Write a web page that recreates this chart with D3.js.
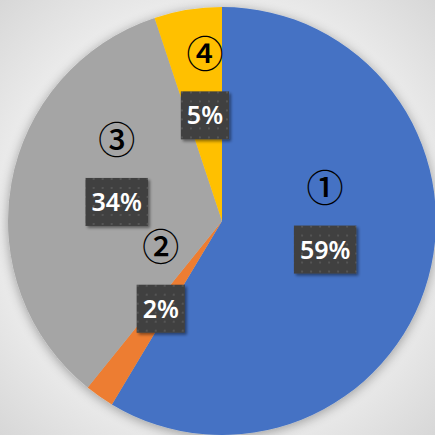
<!DOCTYPE html>
<html>
<head>
<meta charset="utf-8">
<script src="https://cdn.jsdelivr.net/npm/d3@7"></script>
<style>
  html, body { margin: 0; padding: 0; }
  body { width: 435px; height: 435px; overflow: hidden; }
</style>
</head>
<body>
<div id="chart"></div>
<script>
const categories = ["①", "②", "③", "④"];
const values = [58.6, 2.2, 34.1, 5.1];
const percentLabels = ["59%", "2%", "34%", "5%"];
const colors = ["#4472C4", "#ED7D31", "#A5A5A5", "#FFC000"];

const width = 435;
const height = 435;
const radius = 214;
const cx = 222;
const cy = 221;

const svg = d3
  .select("#chart")
  .append("svg")
  .attr("width", width)
  .attr("height", height);

const defs = svg.append("defs");

const bg = defs
  .append("radialGradient")
  .attr("id", "bg")
  .attr("cx", "50%")
  .attr("cy", "50%")
  .attr("r", "72%");
bg.append("stop").attr("offset", "0%").attr("stop-color", "#ffffff");
bg.append("stop").attr("offset", "55%").attr("stop-color", "#f4f4f4");
bg.append("stop").attr("offset", "100%").attr("stop-color", "#d6d6d6");

const shadow = defs.append("filter").attr("id", "pieShadow")
  .attr("x", "-20%").attr("y", "-20%").attr("width", "140%").attr("height", "140%");
shadow.append("feGaussianBlur").attr("in", "SourceAlpha").attr("stdDeviation", 6);
shadow.append("feOffset").attr("dx", 0).attr("dy", 2).attr("result", "b");
shadow.append("feComponentTransfer").append("feFuncA").attr("type", "linear").attr("slope", 0.35);
const merge = shadow.append("feMerge");
merge.append("feMergeNode");
merge.append("feMergeNode").attr("in", "SourceGraphic");

const boxShadow = defs.append("filter").attr("id", "boxShadow")
  .attr("x", "-20%").attr("y", "-20%").attr("width", "150%").attr("height", "150%");
boxShadow.append("feGaussianBlur").attr("in", "SourceAlpha").attr("stdDeviation", 1.5);
boxShadow.append("feOffset").attr("dx", 2).attr("dy", 2);
boxShadow.append("feComponentTransfer").append("feFuncA").attr("type", "linear").attr("slope", 0.45);
const m2 = boxShadow.append("feMerge");
m2.append("feMergeNode");
m2.append("feMergeNode").attr("in", "SourceGraphic");

const pattern = defs.append("pattern")
  .attr("id", "dots")
  .attr("patternUnits", "userSpaceOnUse")
  .attr("width", 9)
  .attr("height", 9);
pattern.append("rect").attr("width", 9).attr("height", 9).attr("fill", "#404040");
pattern.append("rect").attr("x", 3).attr("y", 3).attr("width", 2).attr("height", 2).attr("fill", "#555555");

svg.append("rect").attr("width", width).attr("height", height).attr("fill", "url(#bg)");

const pie = d3.pie().sort(null).value((d) => d);
const arcs = pie(values);
const arc = d3.arc().innerRadius(0).outerRadius(radius);

const g = svg.append("g").attr("transform", `translate(${cx},${cy})`);

g.append("g")
  .attr("filter", "url(#pieShadow)")
  .selectAll("path")
  .data(arcs)
  .join("path")
  .attr("d", arc)
  .attr("fill", (d, i) => colors[i]);

const labelG = g
  .selectAll(".label")
  .data(arcs)
  .join("g")
  .attr("class", "label")
  .attr("transform", (d) => `translate(${arc.centroid(d)})`);

labelG
  .append("text")
  .attr("y", -61)
  .attr("dy", "0.36em")
  .attr("text-anchor", "middle")
  .attr("font-family", "'Noto Sans CJK JP', 'DejaVu Sans', sans-serif")
  .attr("font-size", 37)
  .attr("font-weight", 500)
  .attr("fill", "#000")
  .text((d, i) => categories[i]);

labelG.each(function (d, i) {
  const sel = d3.select(this);
  const t = sel
    .append("text")
    .attr("text-anchor", "middle")
    .attr("dy", "0.36em")
    .attr("font-family", "'Noto Sans', 'DejaVu Sans', sans-serif")
    .attr("font-size", 25)
    .attr("font-weight", 600)
    .attr("fill", "#fff")
    .text(percentLabels[i]);
  const bb = t.node().getBBox();
  const w = bb.width + 12;
  const h = 48;
  sel
    .insert("rect", "text:last-of-type")
    .attr("x", -w / 2)
    .attr("y", -h / 2)
    .attr("width", w)
    .attr("height", h)
    .attr("fill", "url(#dots)")
    .attr("filter", "url(#boxShadow)");
});
</script>
</body>
</html>
